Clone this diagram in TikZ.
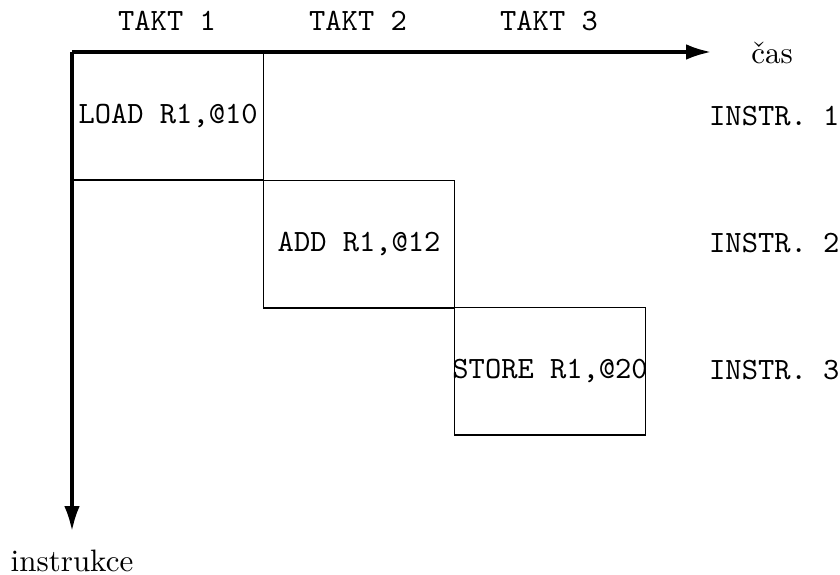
\documentclass[tikz,border=0pt]{standalone}
\usepackage{fontspec}
\usetikzlibrary{arrows.meta}
\tikzset{
  box/.style={draw, line width=0.4pt, minimum width=61.6pt, minimum height=41.1pt, inner sep=0pt, anchor=north west},
  axis/.style={line width=1pt, -{Latex[length=8pt,width=5pt]}},
  tt/.style={font=\ttfamily, inner sep=0pt},
  rm/.style={font=\rmfamily, inner sep=0pt}
}
\begin{document}
\begin{tikzpicture}[x=0.3226pt, y=-0.3226pt]
\useasboundingbox (0,0) rectangle (840,574);
\coordinate (O) at (72,52);
\coordinate (X) at (711,52);
\coordinate (Y) at (72,531);
% boxes
\node[box] (b1) at (72,52) {};
\node[box] (b2) at (263,180) {};
\node[box] (b3) at (454,307) {};
\node[tt] (t1) at (b1.center) {LOAD R1,@10};
\node[tt] (t2) at (b2.center) {ADD R1,@12};
\node[tt] (t3) at (b3.center) {STORE R1,@20};
% axes
\draw[axis] (O) -- (X);
\draw[axis] (O) -- (Y);
% labels
\node[tt] (k1) at (167,21) {TAKT 1};
\node[tt] (k2) at (358,21) {TAKT 2};
\node[tt] (k3) at (549,21) {TAKT 3};
\node[rm] (cas) at (772,53) {čas};
\node[rm] (ins) at (72,561) {instrukce};
\node[tt, anchor=east] (i1) at (840,116) {INSTR. 1};
\node[tt, anchor=east] (i2) at (840,243) {INSTR. 2};
\node[tt, anchor=east] (i3) at (840,370) {INSTR. 3};
\end{tikzpicture}
\end{document}
